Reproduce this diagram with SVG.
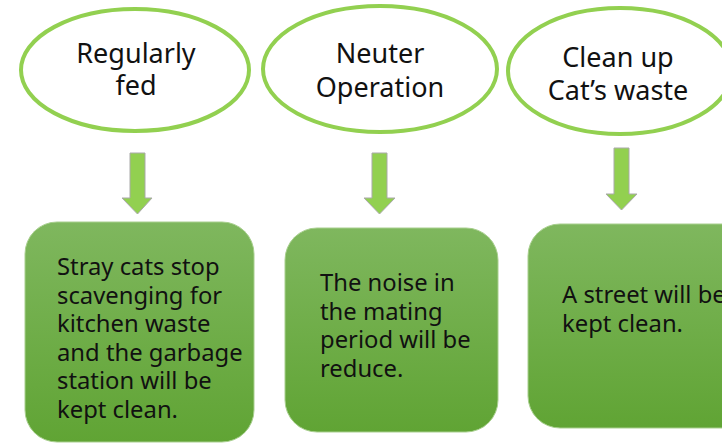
<svg xmlns="http://www.w3.org/2000/svg" width="722" height="443" viewBox="0 0 722 443">
<defs>
<linearGradient id="g" x1="0" y1="0" x2="0" y2="1">
<stop offset="0" stop-color="#7FB75E"/>
<stop offset="1" stop-color="#60A434"/>
</linearGradient>
</defs>
<style>
.ell{fill:#fff;stroke:#92D050;stroke-width:4}
.et{font-family:"Noto Sans","Open Sans",sans-serif;font-size:27px;fill:#111;text-anchor:middle}
.box{fill:url(#g);stroke:#A8CF8E;stroke-width:1}
.bt{font-family:"Noto Sans","Open Sans",sans-serif;font-size:23.8px;fill:#111}
.arr{fill:#92D050;stroke:#A9A9A9;stroke-width:1}
</style>
<rect width="722" height="443" fill="#fff"/>
<g id="n1"><ellipse class="ell" cx="135" cy="70" rx="114" ry="61"/>
<text class="et" x="136" y="63">Regularly</text><text class="et" x="136" y="95">fed</text></g>
<g id="n2"><ellipse class="ell" cx="380" cy="69" rx="117" ry="63"/>
<text class="et" x="380" y="63">Neuter</text><text class="et" x="380" y="97">Operation</text></g>
<g id="n3"><ellipse class="ell" cx="620" cy="71" rx="112" ry="63"/>
<text class="et" x="618" y="67">Clean up</text><text class="et" x="618" y="100">Cat’s waste</text></g>
<g id="connectors">
<path class="arr" d="M130,153 H145 V198 H152 L137.5,214 L122,198 H130 Z"/>
<path class="arr" d="M372,153 H387 V198 H395 L379.5,214 L364,198 H372 Z"/>
<path class="arr" d="M614,148 H629 V194 H637 L621.5,210 L606,194 H614 Z"/>
</g>
<g id="b1"><rect class="box" x="25" y="222" width="229" height="220" rx="32"/>
<text class="bt"><tspan x="57" y="275">Stray cats stop</tspan><tspan x="57" y="303.5">scavenging for</tspan><tspan x="57" y="332">kitchen waste</tspan><tspan x="57" y="360.5">and the garbage</tspan><tspan x="57" y="389">station will be</tspan><tspan x="57" y="417.5">kept clean.</tspan></text></g>
<g id="b2"><rect class="box" x="285" y="228" width="213" height="204" rx="32"/>
<text class="bt"><tspan x="320" y="291">The noise in</tspan><tspan x="320" y="320">the mating</tspan><tspan x="320" y="348">period will be</tspan><tspan x="320" y="377">reduce.</tspan></text></g>
<g id="b3"><rect class="box" x="528" y="224" width="230" height="204" rx="32"/>
<text class="bt"><tspan x="562" y="303">A street will be</tspan><tspan x="562" y="332">kept clean.</tspan></text></g>
</svg>
